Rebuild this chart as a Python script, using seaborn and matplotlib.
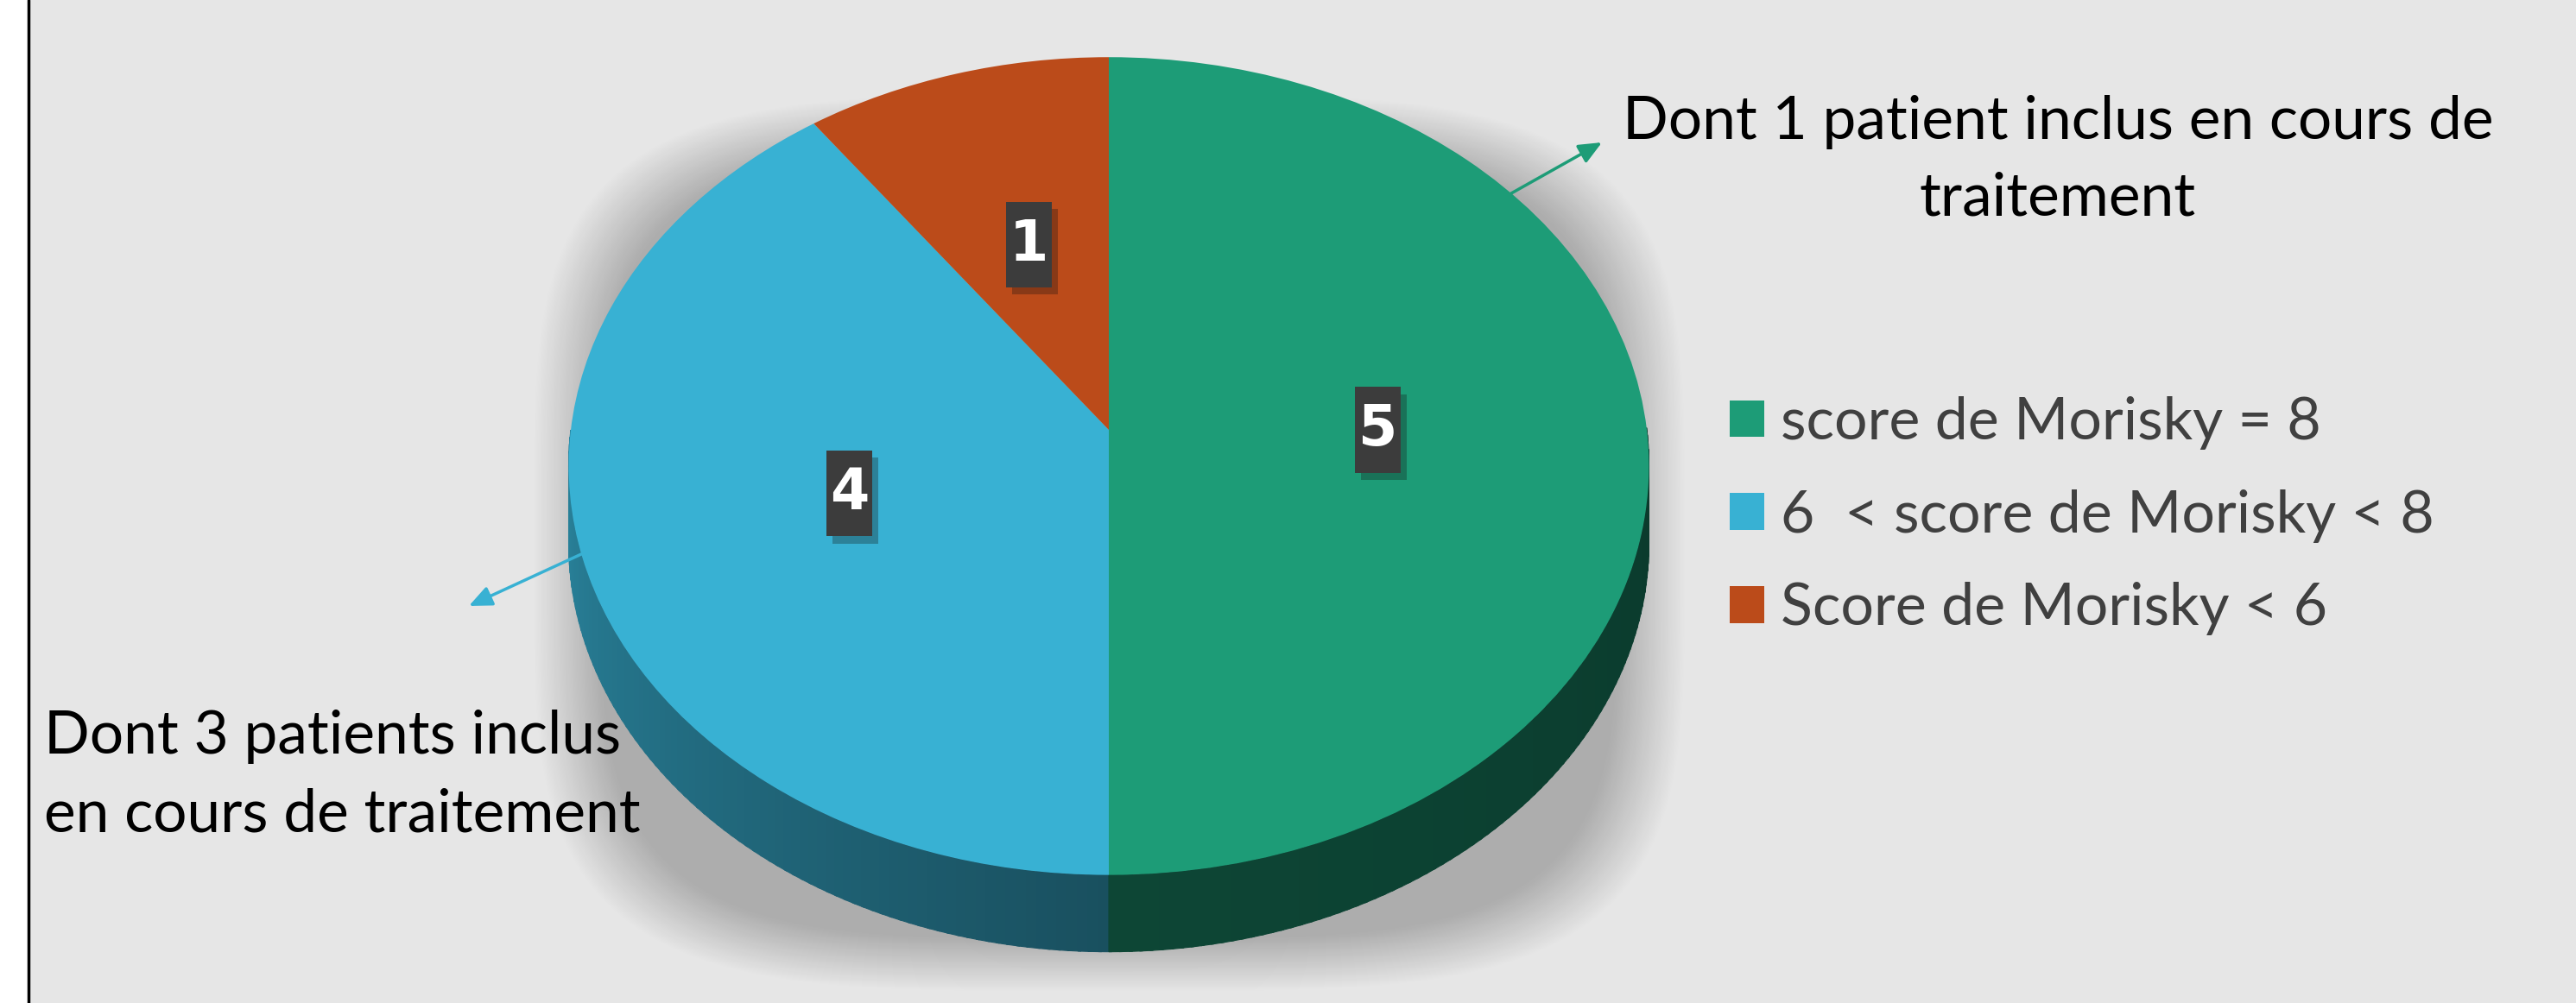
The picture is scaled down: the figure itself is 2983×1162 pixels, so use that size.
import numpy as np
import matplotlib
matplotlib.use("Agg")
import matplotlib.pyplot as plt
import matplotlib.transforms as mtransforms
import matplotlib.patheffects as pe
from matplotlib.path import Path
from matplotlib.colors import to_rgb
import seaborn as sns


# Data.
categories = ["score de Morisky = 8", "6  < score de Morisky < 8", "Score de Morisky < 6"]
counts = [5, 4, 1]
colors = ["#1d9c77", "#38b1d3", "#bb4b1a"]
notes = ["Dont 1 patient inclus en cours de\ntraitement",
         "Dont 3 patients inclus\nen cours de traitement"]
note_colors = [colors[0], colors[1]]


sns.set_theme(style="white")
plt.rcParams["font.family"] = ["Lato", "DejaVu Sans"]

W, H = 2983, 1162
BG = "#e6e6e6"
fig = plt.figure(figsize=(W / 100, H / 100), dpi=100, facecolor=BG)

# Pie geometry in pixels (centre of top face, horizontal / vertical scale, tilt, thickness).
cx, cy0, A, S, k, depth = 1284, 498, 623, 470, 0.0885, 89


class Tilt(mtransforms.Transform):
    """Cheap perspective: far side of the disc looks smaller."""
    input_dims = output_dims = 2
    is_separable = False
    has_inverse = False

    def __init__(self, k):
        super().__init__()
        self.k = k

    def transform_non_affine(self, values):
        values = np.asarray(values, dtype=float)
        x, y = values[:, 0], values[:, 1]
        s = 1 / (1 + self.k * y)
        return np.column_stack([x * s, y * s])


tilt = Tilt(k)


def value_box(x0, y0, width, height, mutation_size):
    # tall narrow label box, sized from the font size
    xc, yc = x0 + width / 2, y0 + height / 2
    hw, hh = 0.41 * mutation_size, 0.76 * mutation_size
    return Path([(xc - hw, yc - hh), (xc + hw, yc - hh), (xc + hw, yc + hh),
                 (xc - hw, yc + hh), (xc - hw, yc - hh)], closed=True)


# Background: white margin, left border, soft shadow behind the pie.
bg = fig.add_axes([0, 0, 1, 1], zorder=0)
bg.set_xlim(0, W)
bg.set_ylim(H, 0)
bg.axis("off")
bg.axvspan(0, 33, color="white", lw=0)
bg.axvline(33, color="black", lw=2.5)

yy, xx = np.mgrid[0:H:2, 0:W:2]
dx = (xx - cx) / 668
dy = (yy - 628) / 520
d = (np.abs(dx) ** 4 + np.abs(dy) ** 4) ** 0.25
alpha = 0.25 * np.clip((1.0 - d) / 0.12, 0, 1)
shadow = np.zeros(xx.shape + (4,))
shadow[..., 3] = alpha
bg.imshow(shadow, extent=(0, W, H, 0), interpolation="bilinear", aspect="auto")

# Pie axes: unit disc coordinates.
ax = fig.add_axes([0, 0, 1, 1], zorder=1)
ax.patch.set_visible(False)

total = sum(counts)
wedges, _, autotexts = ax.pie(
    counts, colors=colors, startangle=90, counterclock=False,
    autopct=lambda p: f"{round(p * total / 100):d}", pctdistance=0.5,
    wedgeprops=dict(linewidth=0), labels=None,
)
for w in wedges:
    w.set_transform(tilt + ax.transData)
    w.set_zorder(3)

# Side of the cylinder (visible lower half), shaded from left to right.
fracs = np.cumsum(counts) / total
dz = depth / S
ts = np.linspace(180, 360, 181)
for t0, t1 in zip(ts[:-1], ts[1:]):
    tm = (t0 + t1) / 2
    f = ((90 - tm) % 360) / 360
    idx = int(np.searchsorted(fracs, f, side="right"))
    if tm < 270:
        shade = 0.75 - 0.30 * (tm - 180) / 90
    else:
        shade = 0.45 - 0.08 * (tm - 270) / 90
    c = np.clip(np.array(to_rgb(colors[idx])) * shade, 0, 1)
    tt = np.radians(np.linspace(t0, t1 + 0.3, 4))
    pts = tilt.transform(np.column_stack([np.cos(tt), np.sin(tt)]))
    xs = np.concatenate([pts[:, 0], pts[::-1, 0]])
    ys = np.concatenate([pts[:, 1], pts[::-1, 1] - dz])
    ax.fill(xs, ys, color=c, lw=0.8, ec=c, zorder=2)

# Value boxes.
for t in autotexts:
    x, y = t.get_position()
    s = 1 / (1 + k * y)
    t.set_position((x * s, y * s))
    t.set_color("white")
    t.set_fontsize(47)
    t.set_fontweight("bold")
    t.set_family("DejaVu Sans")
    t.set_zorder(5)
    t.set_bbox(dict(boxstyle=value_box, fc="#3c3c3c", ec="none"))
    t.get_bbox_patch().set_path_effects(
        [pe.withSimplePatchShadow(offset=(5, -6), alpha=0.3), pe.Normal()])

ax.set_aspect("auto")
ax.set_xlim((0 - cx) / A, (W - cx) / A)
ax.set_ylim((cy0 - H) / S, cy0 / S)
ax.axis("off")

# Overlay: notes and arrows, in pixel coordinates.
ovl = fig.add_axes([0, 0, 1, 1], zorder=3)
ovl.set_xlim(0, W)
ovl.set_ylim(H, 0)
ovl.axis("off")

arrows = [((1750, 224), (1855, 165)), ((788, 589), (543, 702))]
for (tail, head), c in zip(arrows, note_colors):
    ovl.annotate("", xy=head, xytext=tail,
                 arrowprops=dict(arrowstyle="-|>,head_length=0.8,head_width=0.35",
                                 color=c, lw=2.5, shrinkA=0, shrinkB=0,
                                 mutation_scale=20))

for i, line in enumerate(notes[0].split("\n")):
    ovl.text(2383, 161 + i * 89, line, ha="center", va="baseline",
             fontsize=50, color="black")
for i, line in enumerate(notes[1].split("\n")):
    ovl.text(51, 873 + i * 90, line, ha="left", va="baseline",
             fontsize=50, color="black")

leg = fig.legend(wedges, categories, loc="upper left",
                 bbox_to_anchor=(2003 / W, 1 - 459 / H),
                 frameon=False, fontsize=49, labelcolor="#404040",
                 handlelength=0.59, handleheight=0.59, handletextpad=0.28,
                 labelspacing=0.67, borderpad=0, borderaxespad=0)

fig.savefig("out.png", dpi=100, facecolor=fig.get_facecolor())
